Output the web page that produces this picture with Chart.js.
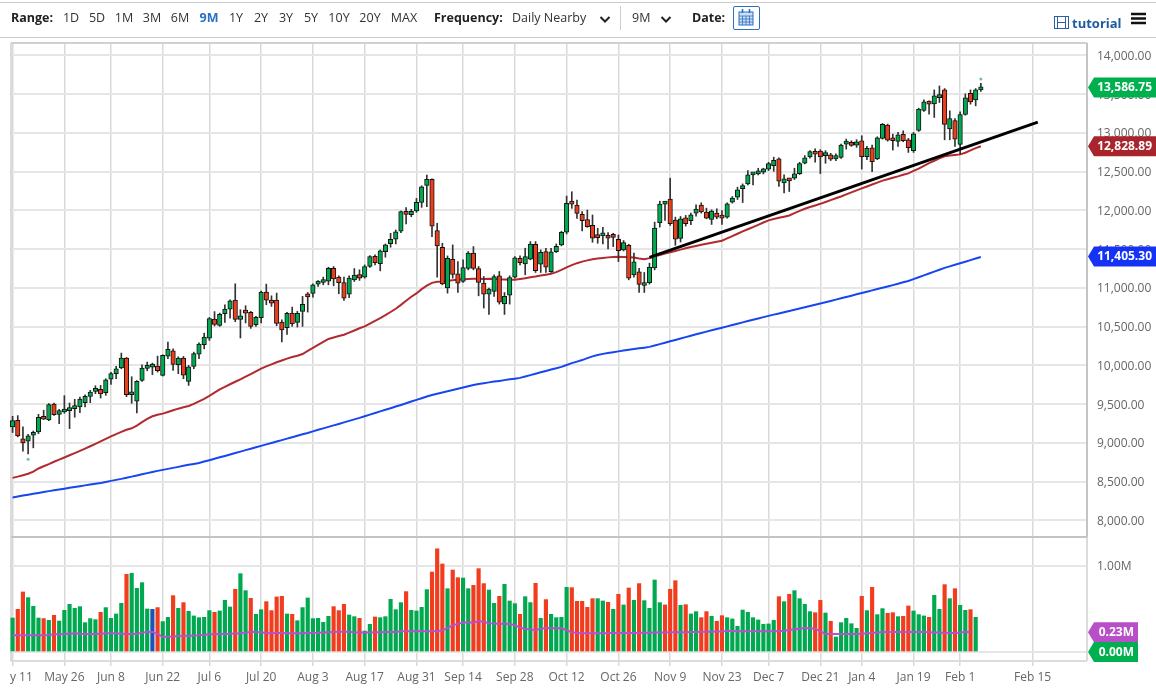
<!DOCTYPE html>
<html>
<head>
<meta charset="utf-8">
<title>Chart</title>
<script src="https://cdn.jsdelivr.net/npm/chart.js@4/dist/chart.umd.min.js"></script>
<style>
  html, body { margin: 0; padding: 0; background: #fff; width: 1156px; height: 689px; overflow: hidden; }
  body { font-family: "Open Sans", sans-serif; font-size: 12.5px; color: #333; position: relative; }
  canvas { position: absolute; left: 0; top: 0; }
  .bar { position: absolute; left: 0; top: 2px; width: 1156px; height: 34px; border-top: 1px solid #ccc; border-bottom: 1px solid #ccc; box-sizing: content-box; }
  .t { position: absolute; top: 10px; line-height: 16px; white-space: nowrap; transform: translateX(-50%); }
  .l { position: absolute; top: 10px; line-height: 16px; white-space: nowrap; }
  .b { font-weight: 700; color: #222; }
  .on { font-weight: 700; color: #2a6fc4; }
  .sep { position: absolute; left: 620px; top: 6px; width: 1px; height: 24px; background: #ccc; }
  .cal { position: absolute; left: 733px; top: 6px; width: 25px; height: 22px; border: 1px solid #2a6fc4; border-radius: 2px; }
  svg { position: absolute; }
</style>
</head>
<body>
<canvas id="priceChart" width="1156" height="689"></canvas>
<canvas id="volumeChart" width="1156" height="689"></canvas>

<div class="bar"></div>
<span class="l b" style="left:11px">Range:</span>
<span class="t" style="left:71px">1D</span>
<span class="t" style="left:97px">5D</span>
<span class="t" style="left:124px">1M</span>
<span class="t" style="left:152px">3M</span>
<span class="t" style="left:180px">6M</span>
<span class="t on" style="left:209px">9M</span>
<span class="t" style="left:236px">1Y</span>
<span class="t" style="left:261px">2Y</span>
<span class="t" style="left:286px">3Y</span>
<span class="t" style="left:311px">5Y</span>
<span class="t" style="left:339px">10Y</span>
<span class="t" style="left:370px">20Y</span>
<span class="t" style="left:404px">MAX</span>
<span class="l b" style="left:434px">Frequency:</span>
<span class="l" style="left:512px">Daily Nearby</span>
<svg style="left:599px;top:15px" width="12" height="9"><polyline points="1.5,2 6,6.5 10.5,2" fill="none" stroke="#222" stroke-width="2"/></svg>
<div class="sep"></div>
<span class="l" style="left:632px">9M</span>
<svg style="left:660px;top:15px" width="12" height="9"><polyline points="1.5,2 6,6.5 10.5,2" fill="none" stroke="#222" stroke-width="2"/></svg>
<span class="l b" style="left:692px">Date:</span>
<div class="cal"></div>
<svg style="left:738px;top:9px" width="16" height="17">
  <rect x="1" y="3" width="14" height="13" fill="#cfe0f4" stroke="#2a6fc4"/>
  <path d="M1 7H15M1 10H15M1 13H15M4.5 7V16M8 7V16M11.5 7V16" stroke="#2a6fc4" stroke-width="0.8"/>
  <path d="M4.5 0V4M11.5 0V4" stroke="#2a6fc4" stroke-width="1.6"/>
</svg>
<svg style="left:1054px;top:16px" width="15" height="13">
  <rect x="0.5" y="0.5" width="14" height="12" fill="#fff" stroke="#2a5fa8"/>
  <path d="M3.5 0V13M11.5 0V13M3.5 6.5H11.5" stroke="#2a5fa8"/>
</svg>
<span class="l" style="left:1072px;top:15px;font-weight:700;color:#1f5a9e;font-size:13px">tutorial</span>
<svg style="left:1131px;top:12px" width="15" height="13"><path d="M0 2H15M0 6.5H15M0 11H15" stroke="#111" stroke-width="2.4"/></svg>

<script>
// Osie i etykiety
const tickBars = [0, 10, 19, 29, 38, 48, 58, 68, 78, 87, 97, 107, 117, 127, 137, 146, 156, 164, 174, 183, 197];
const tickDates = ['May 11', 'May 26', 'Jun 8', 'Jun 22', 'Jul 6', 'Jul 20', 'Aug 3', 'Aug 17', 'Aug 31', 'Sep 14', 'Sep 28', 'Oct 12', 'Oct 26', 'Nov 9', 'Nov 23', 'Dec 7', 'Dec 21', 'Jan 4', 'Jan 19', 'Feb 1', 'Feb 15'];
const barSlots = 208;
const priceTicks = [8000, 8500, 9000, 9500, 10000, 10500, 11000, 11500, 12000, 12500, 13000, 13500, 14000];
const volumeTicks = [0, 1];

// Świece
const opens = [
  9207, 9293, 9053, 9022, 9100, 9143, 9323, 9297, 9503, 9370,
  9400, 9417, 9443, 9465, 9520, 9602, 9666, 9692, 9649, 9825,
  9894, 9967, 10095, 9623, 9538, 9808, 9962, 9979, 9992, 9872,
  10121, 10190, 10009, 10095, 9795, 9988, 10147, 10267, 10353, 10600,
  10518, 10668, 10728, 10844, 10595, 10702, 10685, 10526, 10616, 10947,
  10844, 10844, 10560, 10488, 10676, 10556, 10698, 10904, 10929, 11050,
  11071, 11088, 11255, 11140, 11071, 10921, 11105, 11174, 11140, 11277,
  11410, 11315, 11470, 11573, 11629, 11732, 11980, 11946, 11993, 12105,
  12324, 12401, 11740, 11526, 11002, 11371, 11183, 11084, 11251, 11449,
  11251, 11062, 10921, 10955, 11157, 10796, 10908, 11140, 11384, 11311,
  11371, 11564, 11307, 11470, 11212, 11470, 11556, 11719, 12096, 12070,
  11950, 11882, 11809, 11689, 11672, 11680, 11667, 11629, 11491, 11551,
  11170, 11208, 11032, 11067, 11260, 11842, 12082, 12146, 11876, 11640,
  11906, 11867, 11966, 12069, 11979, 11884, 11966, 11910, 11914, 12107,
  12172, 12283, 12343, 12459, 12472, 12494, 12532, 12579, 12665, 12356,
  12403, 12416, 12476, 12609, 12691, 12751, 12768, 12708, 12717, 12665,
  12685, 12857, 12870, 12844, 12900, 12694, 12810, 12664, 12930, 13101,
  12921, 12891, 12981, 12912, 12771, 13033, 13290, 13393, 13376, 13457,
  13556, 13054, 13161, 12852, 13239, 13513, 13427, 13556
];
const closes = [
  9288, 9091, 9001, 9091, 9113, 9332, 9306, 9495, 9366, 9417,
  9413, 9443, 9473, 9568, 9602, 9658, 9692, 9632, 9816, 9894,
  9958, 10095, 9623, 9653, 9795, 9967, 9992, 9992, 9932, 10130,
  10207, 10014, 10095, 9876, 9984, 10155, 10275, 10365, 10606, 10530,
  10659, 10728, 10835, 10595, 10642, 10676, 10505, 10621, 10947, 10844,
  10805, 10543, 10458, 10672, 10535, 10672, 10788, 10886, 11041, 11084,
  11084, 11255, 11118, 11067, 10869, 11127, 11165, 11127, 11277, 11406,
  11328, 11478, 11556, 11629, 11723, 11985, 11950, 11989, 12105, 12306,
  12401, 11796, 11543, 11054, 11384, 11174, 11062, 11264, 11449, 11251,
  11071, 10921, 10985, 11148, 10818, 10891, 11135, 11388, 11328, 11406,
  11568, 11225, 11461, 11268, 11466, 11539, 11719, 12092, 12083, 11963,
  11869, 11792, 11642, 11650, 11685, 11642, 11654, 11483, 11586, 11127,
  11337, 11045, 11062, 11268, 11773, 12082, 12095, 11829, 11631, 11893,
  11829, 11945, 12017, 11983, 11902, 11992, 11914, 11902, 12086, 12159,
  12266, 12296, 12459, 12468, 12485, 12536, 12605, 12648, 12378, 12408,
  12382, 12472, 12605, 12678, 12760, 12725, 12691, 12721, 12661, 12708,
  12844, 12870, 12840, 12887, 12694, 12801, 12629, 12938, 13110, 12908,
  12900, 12977, 12900, 12810, 12990, 13307, 13402, 13372, 13479, 13496,
  13110, 13187, 12921, 13239, 13453, 13402, 13556, 13590
];
const highs = [
  9344, 9353, 9207, 9113, 9155, 9370, 9422, 9507, 9516, 9434,
  9610, 9516, 9563, 9593, 9623, 9679, 9739, 9743, 9829, 9911,
  9988, 10160, 10104, 9855, 9804, 10009, 10044, 10031, 10121, 10138,
  10301, 10216, 10112, 10117, 10001, 10172, 10293, 10417, 10619, 10695,
  10676, 10784, 10848, 11054, 10719, 10771, 10698, 10633, 10959, 11050,
  10899, 10934, 10590, 10685, 10753, 10698, 10891, 10942, 11054, 11097,
  11140, 11268, 11277, 11157, 11140, 11157, 11251, 11234, 11298, 11418,
  11427, 11491, 11568, 11706, 11749, 11993, 12036, 12015, 12156, 12319,
  12457, 12409, 11835, 11577, 11414, 11556, 11341, 11363, 11470, 11534,
  11277, 11148, 10998, 11170, 11213, 10942, 11157, 11406, 11414, 11513,
  11599, 11599, 11491, 11513, 11513, 11568, 11732, 12186, 12242, 12135,
  11985, 12006, 11942, 11770, 11783, 11714, 11706, 11684, 11612, 11564,
  11449, 11255, 11200, 11320, 11850, 12120, 12107, 12416, 11914, 11923,
  11936, 11966, 12073, 12099, 12030, 12009, 12022, 11999, 12099, 12180,
  12301, 12343, 12515, 12472, 12545, 12545, 12622, 12687, 12678, 12459,
  12416, 12545, 12622, 12708, 12772, 12794, 12785, 12772, 12738, 12730,
  12857, 12921, 12900, 12913, 12964, 12827, 12844, 12951, 13123, 13114,
  12985, 13007, 13028, 12930, 13007, 13320, 13427, 13415, 13556, 13607,
  13573, 13286, 13187, 13273, 13505, 13556, 13573, 13642
];
const lows = [
  9135, 9079, 8894, 8860, 8937, 9121, 9302, 9289, 9357, 9250,
  9383, 9186, 9332, 9392, 9465, 9520, 9636, 9580, 9615, 9756,
  9829, 9958, 9598, 9512, 9387, 9795, 9932, 9881, 9915, 9864,
  10087, 9936, 9894, 9829, 9743, 9958, 10087, 10215, 10323, 10510,
  10505, 10556, 10612, 10565, 10355, 10548, 10479, 10505, 10548, 10784,
  10762, 10513, 10303, 10402, 10505, 10496, 10505, 10689, 10882, 11019,
  11041, 11041, 11028, 10925, 10839, 10874, 11084, 11097, 11127, 11264,
  11298, 11221, 11397, 11526, 11568, 11714, 11826, 11920, 11976, 12040,
  12049, 11663, 11140, 11041, 10934, 11127, 10942, 11071, 11234, 11234,
  10899, 10741, 10659, 10891, 10792, 10659, 10792, 11127, 11298, 11170,
  11363, 11200, 11200, 11200, 11200, 11457, 11543, 11697, 12028, 11899,
  11736, 11783, 11590, 11577, 11568, 11504, 11534, 11341, 11478, 11105,
  11140, 10942, 10942, 11050, 11234, 11786, 11872, 11807, 11550, 11593,
  11799, 11816, 11927, 11966, 11893, 11820, 11893, 11820, 11902, 12095,
  12142, 12103, 12331, 12331, 12459, 12472, 12515, 12506, 12309, 12228,
  12245, 12399, 12464, 12601, 12674, 12622, 12476, 12609, 12644, 12644,
  12672, 12792, 12827, 12814, 12535, 12655, 12501, 12655, 12921, 12895,
  12780, 12827, 12887, 12749, 12749, 13020, 13277, 13243, 13200, 13393,
  12912, 12912, 12827, 12728, 13230, 13372, 13350, 13535
];

// Średnie kroczące
const redAverage = [
  8550, 8566, 8584, 8603, 8630, 8671, 8700, 8728, 8758, 8785,
  8813, 8842, 8870, 8898, 8928, 8958, 8988, 9020, 9052, 9085,
  9115, 9143, 9170, 9190, 9225, 9270, 9310, 9345, 9365, 9379,
  9400, 9422, 9443, 9460, 9478, 9505, 9537, 9570, 9608, 9649,
  9692, 9725, 9758, 9790, 9822, 9855, 9890, 9925, 9960, 9988,
  10015, 10041, 10065, 10088, 10110, 10125, 10148, 10188, 10226, 10265,
  10305, 10342, 10362, 10380, 10397, 10425, 10452, 10480, 10505, 10540,
  10576, 10612, 10650, 10690, 10732, 10782, 10835, 10887, 10930, 10985,
  11030, 11066, 11080, 11085, 11092, 11100, 11108, 11114, 11116, 11118,
  11118, 11116, 11118, 11116, 11112, 11110, 11106, 11105, 11115, 11125,
  11138, 11148, 11160, 11172, 11183, 11205, 11234, 11265, 11295, 11320,
  11340, 11356, 11371, 11380, 11388, 11395, 11401, 11403, 11400, 11396,
  11393, 11380, 11371, 11385, 11408, 11425, 11443, 11460, 11477, 11495,
  11512, 11528, 11543, 11557, 11570, 11583, 11596, 11610, 11640, 11670,
  11700, 11730, 11758, 11786, 11815, 11845, 11872, 11890, 11905, 11920,
  11936, 11965, 11995, 12022, 12045, 12065, 12086, 12110, 12133, 12157,
  12180, 12207, 12233, 12260, 12286, 12310, 12335, 12360, 12385, 12403,
  12422, 12440, 12460, 12479, 12510, 12540, 12575, 12610, 12642, 12672,
  12698, 12708, 12716, 12724, 12745, 12775, 12805, 12829
];
const blueAverage = [
  8298, 8310, 8322, 8333, 8345, 8356, 8368, 8379, 8390, 8401,
  8411, 8421, 8432, 8443, 8453, 8464, 8475, 8485, 8498, 8511,
  8524, 8537, 8552, 8566, 8581, 8596, 8611, 8626, 8640, 8653,
  8666, 8679, 8692, 8705, 8718, 8730, 8743, 8760, 8778, 8796,
  8815, 8833, 8852, 8871, 8889, 8908, 8926, 8945, 8963, 8982,
  9000, 9019, 9037, 9056, 9075, 9093, 9112, 9130, 9150, 9170,
  9189, 9208, 9227, 9246, 9266, 9285, 9305, 9324, 9345, 9366,
  9387, 9408, 9428, 9449, 9470, 9491, 9513, 9535, 9556, 9578,
  9600, 9620, 9636, 9652, 9668, 9684, 9700, 9716, 9732, 9748,
  9762, 9772, 9782, 9792, 9801, 9811, 9821, 9830, 9840, 9858,
  9876, 9894, 9912, 9930, 9948, 9964, 9982, 10006, 10030, 10050,
  10070, 10095, 10118, 10135, 10150, 10162, 10172, 10182, 10192, 10203,
  10212, 10221, 10230, 10240, 10258, 10276, 10294, 10312, 10330, 10348,
  10366, 10384, 10402, 10420, 10437, 10454, 10471, 10488, 10505, 10522,
  10539, 10556, 10573, 10590, 10607, 10624, 10640, 10656, 10672, 10688,
  10704, 10720, 10736, 10752, 10768, 10784, 10800, 10817, 10833, 10850,
  10867, 10884, 10901, 10918, 10935, 10952, 10969, 10986, 11003, 11020,
  11037, 11054, 11073, 11091, 11115, 11139, 11163, 11187, 11211, 11235,
  11259, 11279, 11299, 11319, 11339, 11359, 11380, 11400
];

// Linia trendu dorysowana na wykresie i małe znaczniki
const trendBars = [123, 198];
const trendValues = [11394, 13140];
const markerBars = [3, 187];
const markerValues = [8790, 13697];

// Wolumen
const volumes = [
  0.395, 0.496, 0.698, 0.632, 0.531, 0.395, 0.388, 0.368, 0.426, 0.36,
  0.484, 0.554, 0.508, 0.527, 0.341, 0.388, 0.376, 0.461, 0.516, 0.391,
  0.442, 0.566, 0.903, 0.915, 0.74, 0.806, 0.5, 0.496, 0.516, 0.353,
  0.403, 0.655, 0.508, 0.574, 0.473, 0.419, 0.399, 0.403, 0.481, 0.461,
  0.477, 0.601, 0.523, 0.729, 0.911, 0.713, 0.624, 0.438, 0.492, 0.585,
  0.481, 0.64, 0.647, 0.442, 0.438, 0.364, 0.516, 0.628, 0.388, 0.391,
  0.345, 0.415, 0.527, 0.481, 0.554, 0.43, 0.411, 0.391, 0.244, 0.322,
  0.407, 0.399, 0.411, 0.612, 0.492, 0.574, 0.702, 0.484, 0.477, 0.519,
  0.725, 0.93, 1.2, 1.023, 0.736, 0.953, 0.864, 0.86, 0.736, 0.775,
  0.969, 0.795, 0.721, 0.566, 0.647, 0.787, 0.593, 0.562, 0.438, 0.643,
  0.574, 0.798, 0.391, 0.609, 0.438, 0.399, 0.403, 0.752, 0.748, 0.589,
  0.589, 0.519, 0.62, 0.62, 0.593, 0.578, 0.496, 0.671, 0.547, 0.744,
  0.601, 0.795, 0.597, 0.508, 0.837, 0.574, 0.547, 0.729, 0.829, 0.543,
  0.55, 0.442, 0.469, 0.399, 0.469, 0.415, 0.357, 0.422, 0.399, 0.384,
  0.298, 0.488, 0.461, 0.399, 0.372, 0.322, 0.326, 0.368, 0.643, 0.585,
  0.671, 0.713, 0.62, 0.554, 0.469, 0.457, 0.6, 0.453, 0.357, 0.174,
  0.341, 0.391, 0.329, 0.275, 0.647, 0.481, 0.752, 0.434, 0.504, 0.45,
  0.457, 0.411, 0.415, 0.535, 0.477, 0.434, 0.419, 0.403, 0.659, 0.496,
  0.783, 0.62, 0.736, 0.543, 0.484, 0.492, 0.403
];
const volumeKinds = [
  'G', 'R', 'R', 'G', 'G', 'G', 'R', 'G', 'R', 'G',
  'G', 'G', 'G', 'G', 'G', 'G', 'G', 'R', 'G', 'G',
  'G', 'G', 'R', 'G', 'G', 'G', 'G', 'B', 'R', 'G',
  'G', 'R', 'G', 'R', 'G', 'G', 'G', 'G', 'G', 'R',
  'G', 'G', 'G', 'R', 'G', 'G', 'R', 'G', 'G', 'R',
  'R', 'R', 'R', 'G', 'R', 'G', 'G', 'G', 'G', 'G',
  'G', 'G', 'R', 'R', 'R', 'G', 'G', 'R', 'G', 'G',
  'R', 'G', 'G', 'G', 'G', 'G', 'R', 'G', 'G', 'G',
  'G', 'R', 'R', 'R', 'G', 'R', 'R', 'G', 'G', 'R',
  'R', 'R', 'G', 'G', 'R', 'G', 'G', 'G', 'R', 'G',
  'G', 'R', 'G', 'R', 'G', 'G', 'G', 'G', 'R', 'R',
  'R', 'R', 'R', 'G', 'G', 'R', 'G', 'R', 'G', 'R',
  'G', 'R', 'G', 'G', 'G', 'G', 'R', 'R', 'R', 'G',
  'R', 'G', 'G', 'R', 'R', 'G', 'R', 'R', 'G', 'G',
  'G', 'G', 'G', 'G', 'G', 'G', 'G', 'G', 'R', 'G',
  'R', 'G', 'G', 'G', 'G', 'R', 'R', 'G', 'R', 'G',
  'G', 'G', 'G', 'G', 'R', 'G', 'R', 'G', 'G', 'R',
  'R', 'G', 'R', 'R', 'G', 'G', 'G', 'R', 'G', 'G',
  'R', 'G', 'R', 'G', 'G', 'R', 'G'
];
const volumeAverage = [
  0.194, 0.194, 0.194, 0.194, 0.194, 0.194, 0.194, 0.198, 0.205, 0.207,
  0.209, 0.213, 0.217, 0.213, 0.209, 0.209, 0.209, 0.213, 0.217, 0.217,
  0.217, 0.213, 0.209, 0.209, 0.209, 0.225, 0.233, 0.233, 0.209, 0.174,
  0.178, 0.18, 0.186, 0.188, 0.19, 0.192, 0.194, 0.2, 0.205, 0.207,
  0.209, 0.21, 0.212, 0.214, 0.217, 0.225, 0.236, 0.233, 0.229, 0.217,
  0.218, 0.22, 0.221, 0.219, 0.217, 0.218, 0.219, 0.22, 0.221, 0.224,
  0.227, 0.23, 0.233, 0.235, 0.236, 0.234, 0.229, 0.227, 0.225, 0.227,
  0.229, 0.23, 0.232, 0.233, 0.233, 0.24, 0.24, 0.24, 0.24, 0.24,
  0.24, 0.24, 0.24, 0.252, 0.279, 0.31, 0.329, 0.341, 0.345, 0.341,
  0.36, 0.349, 0.333, 0.331, 0.329, 0.327, 0.326, 0.31, 0.283, 0.27,
  0.26, 0.252, 0.271, 0.279, 0.277, 0.275, 0.275, 0.252, 0.229, 0.221,
  0.218, 0.217, 0.217, 0.218, 0.219, 0.22, 0.221, 0.221, 0.221, 0.221,
  0.221, 0.222, 0.223, 0.224, 0.225, 0.226, 0.227, 0.229, 0.229, 0.229,
  0.229, 0.231, 0.233, 0.234, 0.235, 0.236, 0.238, 0.239, 0.244, 0.243,
  0.242, 0.242, 0.241, 0.241, 0.24, 0.24, 0.24, 0.24, 0.24, 0.248,
  0.256, 0.264, 0.271, 0.279, 0.275, 0.271, 0.24, 0.209, 0.209, 0.209,
  0.209, 0.209, 0.209, 0.21, 0.213, 0.217, 0.22, 0.226, 0.233, 0.233,
  0.233, 0.233, 0.233, 0.233, 0.233, 0.233, 0.231, 0.229, 0.227, 0.225,
  0.221, 0.221, 0.221, 0.227, 0.233, 0.233
];

// Etykiety z ostatnimi wartościami
const priceTagValues = [13586.75, 12828.89, 11405.30];
const priceTagColors = ['#00b04f', '#a8252d', '#1433f5'];
const volumeTagValues = [0.23, 0];
const volumeTagColors = ['#b84fc8', '#00b04f'];

const GREEN = '#00a94f';
const RED = '#f23c1e';
const BLUE = '#1c55b8';
const FONT = '"Open Sans", sans-serif';

// Wspólna oś czasu
const labels = new Array(barSlots).fill('');
tickBars.forEach((bar, i) => { labels[bar] = tickDates[i]; });

function keepDated(scale) {
  scale.ticks = scale.ticks.filter(t => labels[t.value] !== '');
}

function sparse(bars, values) {
  const out = new Array(barSlots).fill(null);
  bars.forEach((bar, i) => { out[bar] = values[i]; });
  return out;
}

// Ramka panelu
const framePlugin = {
  id: 'frame',
  beforeDatasetsDraw(chart, args, opts) {
    const a = chart.chartArea;
    const c = chart.ctx;
    c.save();
    c.lineWidth = 2;
    c.strokeStyle = opts.bottom;
    c.beginPath();
    c.moveTo(11, a.bottom); c.lineTo(a.right, a.bottom);
    c.moveTo(a.right, a.top); c.lineTo(a.right, a.bottom);
    c.stroke();
    c.strokeStyle = opts.top;
    c.beginPath();
    c.moveTo(11, a.top); c.lineTo(a.right, a.top);
    c.stroke();
    c.lineWidth = 1.5;
    c.strokeStyle = '#d0d0d0';
    c.beginPath();
    c.moveTo(11, a.top); c.lineTo(11, a.bottom);
    c.stroke();
    c.restore();
  }
};

// Kolorowe etykiety po prawej stronie osi
const tagPlugin = {
  id: 'tags',
  afterDraw(chart, args, opts) {
    const c = chart.ctx;
    const left = chart.chartArea.right + 1;
    c.save();
    // ucięcie pierwszej daty przy lewej krawędzi
    c.clearRect(0, chart.chartArea.bottom + 6, 10, 30);
    c.font = 'bold 12px ' + FONT;
    c.textBaseline = 'middle';
    c.textAlign = 'right';
    opts.values.forEach((value, i) => {
      const y = chart.scales.y.getPixelForValue(value);
      const right = left + opts.width;
      c.fillStyle = opts.colors[i];
      c.beginPath();
      c.moveTo(left, y);
      c.lineTo(left + 6, y - 10);
      c.lineTo(right, y - 10);
      c.lineTo(right, y + 10);
      c.lineTo(left + 6, y + 10);
      c.closePath();
      c.fill();
      c.fillStyle = '#fff';
      c.fillText(opts.format(value), right - 4, y + 0.5);
    });
    c.restore();
  }
};

const formatPrice = v => v.toLocaleString('en-US', { minimumFractionDigits: 2, maximumFractionDigits: 2 });
const formatVolume = v => v.toFixed(2) + 'M';

new Chart(document.getElementById('priceChart'), {
  type: 'bar',
  plugins: [framePlugin, tagPlugin],
  data: {
    labels,
    datasets: [
      {
        type: 'line', data: sparse(trendBars, trendValues), order: 0, spanGaps: true,
        borderColor: '#000', borderWidth: 3, pointRadius: 0, borderCapStyle: 'butt'
      },
      {
        type: 'line', data: sparse(markerBars, markerValues), order: 0, showLine: false,
        pointRadius: 1.5, pointBackgroundColor: '#62c8a0', pointBorderWidth: 0
      },
      {
        data: opens.map((o, i) => [o, closes[i]]), order: 1, grouped: false,
        barThickness: 4.5, minBarLength: 3, borderWidth: 1, borderSkipped: false, borderColor: '#111',
        backgroundColor: opens.map((o, i) => closes[i] >= o ? GREEN : '#ea3f1c')
      },
      {
        data: lows.map((l, i) => [l, highs[i]]), order: 2, grouped: false,
        barThickness: 1, backgroundColor: '#333', borderWidth: 0
      },
      {
        type: 'line', data: redAverage, order: 3,
        borderColor: '#b02a30', borderWidth: 2, pointRadius: 0
      },
      {
        type: 'line', data: blueAverage, order: 4,
        borderColor: '#1746f0', borderWidth: 2, pointRadius: 0
      }
    ]
  },
  options: {
    responsive: false,
    animation: false,
    events: [],
    layout: { padding: { left: 10, top: 43, bottom: 152, right: 0 } },
    plugins: {
      legend: { display: false },
      tooltip: { enabled: false },
      frame: { top: '#d0d0d0', bottom: '#c4c4c4' },
      tags: { values: priceTagValues, colors: priceTagColors, width: 68, format: formatPrice }
    },
    scales: {
      x: {
        offset: true,
        afterBuildTicks: keepDated,
        afterFit: s => { s.height = 0; s.paddingLeft = 0; s.paddingRight = 0; },
        border: { display: false },
        grid: { color: '#d9d9d9', lineWidth: 1.5, offset: false, drawTicks: false },
        ticks: { display: false, autoSkip: false }
      },
      y: {
        position: 'right',
        min: 7787,
        max: 14161,
        afterBuildTicks: s => { s.ticks = priceTicks.map(value => ({ value })); },
        afterFit: s => { s.width = 69; },
        border: { display: false },
        grid: { color: '#e6e6e6', lineWidth: 2, drawTicks: false },
        ticks: {
          color: '#666', padding: 10, labelOffset: 1, font: { family: FONT, size: 12 },
          callback: formatPrice
        }
      }
    }
  }
});

new Chart(document.getElementById('volumeChart'), {
  type: 'bar',
  plugins: [framePlugin, tagPlugin],
  data: {
    labels,
    datasets: [
      {
        type: 'line', data: volumeAverage, order: 0,
        borderColor: '#b84fd0', borderWidth: 2, pointRadius: 0
      },
      {
        data: volumes, order: 1,
        barThickness: 3.5, borderWidth: 0,
        backgroundColor: volumeKinds.map(k => k === 'G' ? GREEN : k === 'R' ? RED : BLUE)
      }
    ]
  },
  options: {
    responsive: false,
    animation: false,
    events: [],
    layout: { padding: { left: 10, top: 537, bottom: 0, right: 0 } },
    plugins: {
      legend: { display: false },
      tooltip: { enabled: false },
      frame: { top: '#c4c4c4', bottom: '#dcdcdc' },
      tags: { values: volumeTagValues, colors: volumeTagColors, width: 50, format: formatVolume }
    },
    scales: {
      x: {
        offset: true,
        afterBuildTicks: keepDated,
        afterFit: s => { s.height = 28; s.paddingLeft = 0; s.paddingRight = 0; },
        border: { display: false },
        grid: { color: '#d9d9d9', lineWidth: 1.5, offset: false, tickLength: 5 },
        ticks: {
          color: '#666', padding: 4, autoSkip: false, maxRotation: 0,
          font: { family: FONT, size: 12 }
        }
      },
      y: {
        position: 'right',
        min: -0.105,
        max: 1.337,
        afterBuildTicks: s => { s.ticks = volumeTicks.map(value => ({ value })); },
        afterFit: s => { s.width = 69; },
        border: { display: false },
        grid: { color: '#e6e6e6', lineWidth: 2, drawTicks: false },
        ticks: {
          color: '#666', padding: 10, labelOffset: 1, font: { family: FONT, size: 12 },
          callback: formatVolume
        }
      }
    }
  }
});
</script>
</body>
</html>
